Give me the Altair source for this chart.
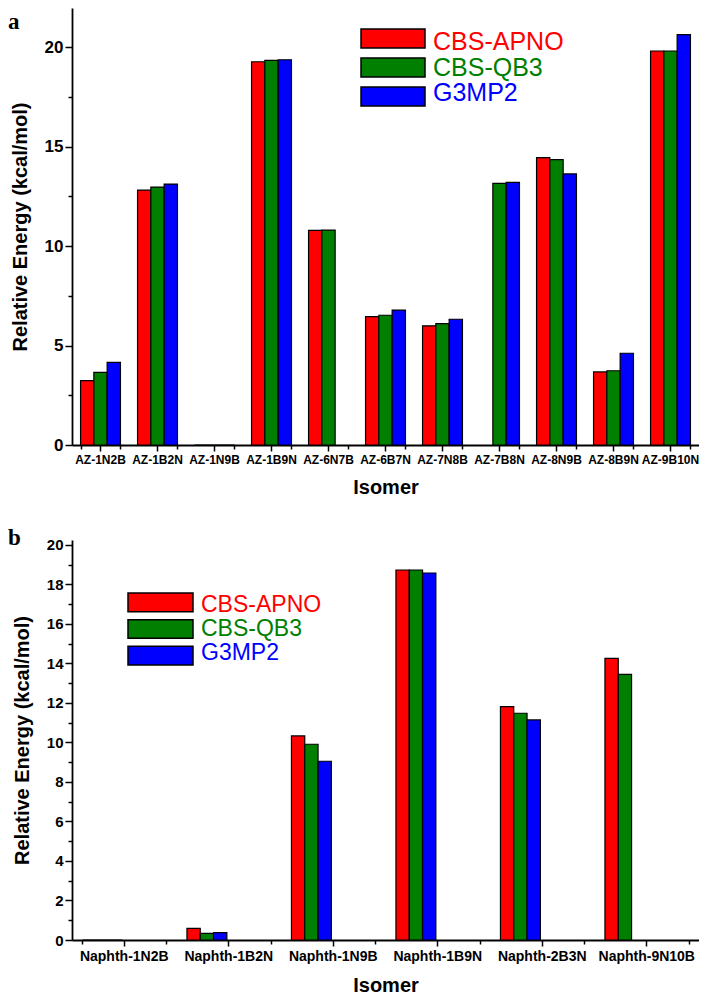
"""Relative energies of BN-doped azulene (a) and naphthalene (b) isomers."""

from __future__ import annotations

import altair as alt
import pandas as pd

methods = ["CBS-APNO", "CBS-QB3", "G3MP2"]
method_colors = ["#ff0000", "#007f00", "#0000ff"]

az_isomers = [
    "AZ-1N2B", "AZ-1B2N", "AZ-1N9B", "AZ-1B9N", "AZ-6N7B", "AZ-6B7N",
    "AZ-7N8B", "AZ-7B8N", "AZ-8N9B", "AZ-8B9N", "AZ-9B10N",
]
az_cbs_apno = [3.23, 12.81, 0.0, 19.26, 10.79, 6.45, 5.99, None, 14.44, 3.67, 19.80]
az_cbs_qb3 = [3.65, 12.96, 0.0, 19.33, 10.80, 6.52, 6.10, 13.15, 14.34, 3.73, 19.80]
az_g3mp2 = [4.15, 13.11, 0.0, 19.36, None, 6.78, 6.32, 13.20, 13.62, 4.61, 20.62]

naph_isomers = [
    "Naphth-1N2B", "Naphth-1B2N", "Naphth-1N9B",
    "Naphth-1B9N", "Naphth-2B3N", "Naphth-9N10B",
]
naph_cbs_apno = [0.0, 0.59, 10.33, 18.73, 11.81, 14.26]
naph_cbs_qb3 = [0.0, 0.34, 9.91, 18.73, 11.48, 13.45]
naph_g3mp2 = [0.0, 0.37, 9.05, 18.58, 11.14, None]

az_ticks = [0, 2.5, 5, 7.5, 10, 12.5, 15, 17.5, 20]
naph_ticks = [0, 1, 2, 3, 4, 5, 6, 7, 8, 9, 10, 11, 12, 13, 14, 15, 16, 17, 18, 19, 20]

FONT = "Liberation Sans"


def to_long(isomers, series):
    rows = []
    for method, values in zip(methods, series):
        for isomer, value in zip(isomers, values):
            if value is not None:
                rows.append({"isomer": isomer, "method": method, "energy": value})
    return pd.DataFrame(rows)


def build_panel(
    isomers, series, *, letter, y_max, ticks, major, width, height,
    pad_inner, x_label_size, y_label_size, legend_x, legend_y, legend_font,
    legend_pad, letter_xy,
):
    data = to_long(isomers, series)
    color = alt.Color(
        "method:N",
        scale=alt.Scale(domain=methods, range=method_colors),
        legend=None,
    )
    x_scale = alt.Scale(paddingInner=pad_inner, paddingOuter=pad_inner / 2)

    bars = (
        alt.Chart(data)
        .mark_bar(stroke="black", strokeWidth=1.2)
        .encode(
            x=alt.X(
                "isomer:N",
                sort=isomers,
                scale=x_scale,
                axis=alt.Axis(
                    orient="bottom",
                    title="Isomer",
                    labelAngle=0,
                    labelFontSize=x_label_size,
                    labelFontWeight="bold",
                    labelPadding=3,
                    labelLimit=200,
                    tickSize=6,
                    titleFontSize=20,
                    titlePadding=12,
                ),
            ),
            xOffset=alt.XOffset("method:N", sort=methods, scale=alt.Scale(domain=methods)),
            y=alt.Y(
                "energy:Q",
                scale=alt.Scale(domain=[0, y_max], nice=False, zero=True),
                axis=alt.Axis(
                    title="Relative Energy (kcal/mol)",
                    values=ticks,
                    labelExpr=f"datum.value % {major} === 0 ? datum.label : ''",
                    tickSize={
                        "condition": {"test": f"datum.value % {major} === 0", "value": 7},
                        "value": 4,
                    },
                    labelFontSize=y_label_size,
                    labelFontWeight="bold",
                    labelPadding=2,
                    titleFontSize=20,
                    titlePadding=14,
                    grid=False,
                ),
            ),
            color=color,
        )
    )

    # short ticks at the category boundaries
    minor_x = (
        alt.Chart(data)
        .mark_tick(opacity=0)
        .encode(
            x=alt.X(
                "isomer:N",
                sort=isomers,
                axis=alt.Axis(
                    orient="bottom",
                    title=None,
                    labels=False,
                    domain=False,
                    tickBand="extent",
                    tickSize=4,
                ),
            ),
        )
    )

    legend_scale = alt.Scale(
        domain=methods,
        range=legend_y,
        paddingInner=legend_pad,
        paddingOuter=0,
    )
    legend_df = pd.DataFrame({"method": methods})
    legend_boxes = (
        alt.Chart(legend_df)
        .mark_rect(stroke="black", strokeWidth=1.5)
        .encode(
            x=alt.value(legend_x[0]),
            x2=alt.value(legend_x[1]),
            y=alt.Y("method:N", sort=methods, scale=legend_scale, axis=None),
            color=color,
        )
    )
    legend_text = (
        alt.Chart(legend_df)
        .mark_text(align="left", baseline="middle", fontSize=legend_font, font=FONT)
        .encode(
            x=alt.value(legend_x[2]),
            y=alt.Y("method:N", sort=methods, scale=legend_scale, axis=None),
            text="method:N",
            color=color,
        )
    )

    panel_letter = (
        alt.Chart(pd.DataFrame({"letter": [letter]}))
        .mark_text(
            align="left",
            baseline="top",
            font="Liberation Serif",
            fontWeight="bold",
            fontSize=23,
        )
        .encode(
            x=alt.value(letter_xy[0]),
            y=alt.value(letter_xy[1]),
            text="letter:N",
        )
    )

    return (
        alt.layer(minor_x, bars, legend_boxes, legend_text, panel_letter)
        .resolve_scale(y="independent")
        .resolve_axis(x="independent")
        .properties(width=width, height=height)
    )


top = build_panel(
    az_isomers,
    [az_cbs_apno, az_cbs_qb3, az_g3mp2],
    letter="a",
    y_max=21.96,
    ticks=az_ticks,
    major=5,
    width=627,
    height=437,
    pad_inner=0.3,
    x_label_size=12,
    y_label_size=17,
    legend_x=[289, 353, 361],
    legend_y=[21, 98],
    legend_font=25,
    legend_pad=0.345,
    letter_xy=[-64, 3],
)

bottom = build_panel(
    naph_isomers,
    [naph_cbs_apno, naph_cbs_qb3, naph_g3mp2],
    letter="b",
    y_max=20.25,
    ticks=naph_ticks,
    major=2,
    width=627,
    height=400,
    pad_inner=0.2,
    x_label_size=14,
    y_label_size=15,
    legend_x=[56, 121, 129],
    legend_y=[53, 125],
    legend_font=23,
    legend_pad=0.3,
    letter_xy=[-64, -13],
)

chart = (
    alt.vconcat(top, bottom, spacing=30)
    .properties(padding={"left": 0, "top": 0, "right": 0, "bottom": 0})
    .configure_view(stroke=None)
    .configure_axis(
        labelFont=FONT,
        titleFont=FONT,
        titleFontWeight="bold",
        labelColor="black",
        titleColor="black",
        domainColor="black",
        tickColor="black",
        domainWidth=1.8,
        tickWidth=1.5,
    )
)

chart.save("out.html", embed_options={"renderer": "svg", "actions": False})
